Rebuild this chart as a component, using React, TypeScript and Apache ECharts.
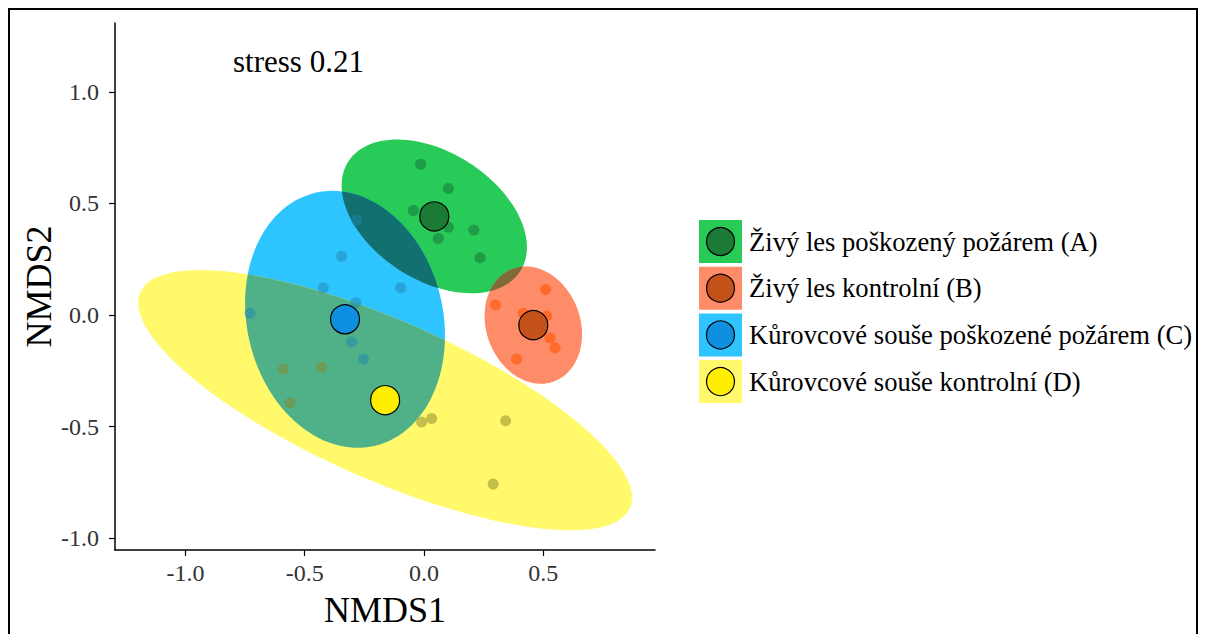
import React, { useEffect, useRef } from "react";
import * as echarts from "echarts";

const groupNames = [
  "Živý les poškozený požárem (A)",
  "Živý les kontrolní (B)",
  "Kůrovcové souše poškozené požárem (C)",
  "Kůrovcové souše kontrolní (D)",
];
const ellipseColors = ["#28CA58", "#FF8C69", "#2EC4FF", "#FFF96B"];
const centroidColors = ["#1B7A35", "#C4501A", "#0F8FE0", "#FFEE00"];
const pointColors = [
  "rgba(20,110,56,0.5)",
  "rgba(255,85,0,0.6)",
  "rgba(32,134,177,0.5)",
  "rgba(137,134,41,0.5)",
];

// group centroids (NMDS1, NMDS2)
const centroids = [
  [0.043, 0.442],
  [0.458, -0.045],
  [-0.331, -0.019],
  [-0.163, -0.381],
];

// ellipse conjugate semi-axis vectors in data units
const ellipseU = [
  [0.3607, -0.245],
  [0.0859, -0.2526],
  [0.1253, -0.5665],
  [1.026, -0.4828],
];
const ellipseV = [
  [-0.1437, -0.2418],
  [-0.1852, -0.0721],
  [-0.3997, -0.1012],
  [-0.1341, -0.326],
];

const overlapPairs = [
  [0, 2],
  [2, 3],
  [0, 1],
];
const overlapColors = ["#127070", "#50B189", "#7F6B39"];

const pointsA = [
  [-0.014, 0.675],
  [0.102, 0.567],
  [-0.045, 0.468],
  [0.102, 0.393],
  [0.06, 0.343],
  [0.209, 0.381],
  [0.235, 0.257],
];
const pointsB = [
  [0.51, 0.115],
  [0.3, 0.045],
  [0.416, 0.008],
  [0.514, -0.004],
  [0.528, -0.103],
  [0.549, -0.146],
  [0.388, -0.197],
];
const pointsC = [
  [-0.282, 0.425],
  [-0.345, 0.264],
  [-0.422, 0.122],
  [-0.098, 0.122],
  [-0.286, 0.055],
  [-0.729, 0.008],
  [-0.303, -0.12],
  [-0.254, -0.198],
];
const pointsD = [
  [-0.589, -0.242],
  [-0.429, -0.234],
  [-0.561, -0.393],
  [-0.01, -0.479],
  [0.032, -0.463],
  [0.342, -0.473],
  [0.29, -0.757],
];
const groupPoints = [pointsA, pointsB, pointsC, pointsD];

const tickValues = [-1, -0.5, 0, 0.5];
const yTickValues = [-1, -0.5, 0, 0.5, 1];
const stressLabel = "stress 0.21";

const FONT = "Liberation Serif";

function ellipsePixels(g: number, api: any): number[][] {
  const pts: number[][] = [];
  const N = 120;
  const c = centroids[g];
  const u = ellipseU[g];
  const v = ellipseV[g];
  for (let k = 0; k < N; k++) {
    const t = (2 * Math.PI * k) / N;
    const x = c[0] + Math.cos(t) * u[0] + Math.sin(t) * v[0];
    const y = c[1] + Math.cos(t) * u[1] + Math.sin(t) * v[1];
    pts.push(api.coord([x, y]));
  }
  return pts;
}

function clipPolygon(subject: number[][], clip: number[][]): number[][] {
  let area = 0;
  for (let i = 0; i < clip.length; i++) {
    const a = clip[i];
    const b = clip[(i + 1) % clip.length];
    area += a[0] * b[1] - b[0] * a[1];
  }
  const sgn = area > 0 ? 1 : -1;
  let output = subject;
  for (let i = 0; i < clip.length && output.length; i++) {
    const a = clip[i];
    const b = clip[(i + 1) % clip.length];
    const inside = (p: number[]) =>
      sgn * ((b[0] - a[0]) * (p[1] - a[1]) - (b[1] - a[1]) * (p[0] - a[0])) >= 0;
    const inter = (p: number[], q: number[]) => {
      const dx = q[0] - p[0];
      const dy = q[1] - p[1];
      const ex = b[0] - a[0];
      const ey = b[1] - a[1];
      const denom = dx * ey - dy * ex;
      const t = ((a[0] - p[0]) * ey - (a[1] - p[1]) * ex) / denom;
      return [p[0] + t * dx, p[1] + t * dy];
    };
    const input = output;
    output = [];
    for (let j = 0; j < input.length; j++) {
      const cur = input[j];
      const prev = input[(j + input.length - 1) % input.length];
      const cIn = inside(cur);
      const pIn = inside(prev);
      if (cIn) {
        if (!pIn) output.push(inter(prev, cur));
        output.push(cur);
      } else if (pIn) {
        output.push(inter(prev, cur));
      }
    }
  }
  return output;
}

export default function App() {
  const ref = useRef<HTMLDivElement>(null);
  useEffect(() => {
    if (!ref.current) return;
    const chart = echarts.init(ref.current, null, { renderer: "svg" });

    const legendTop = 220;
    const legendPitch = 46.7;
    const legendGraphics: any[] = [];
    const titles: any[] = [
      {
        text: stressLabel,
        left: 233,
        top: 46,
        padding: 0,
        textStyle: { fontFamily: FONT, fontSize: 31, fontWeight: "normal", color: "#000" },
      },
    ];
    groupNames.forEach((name, i) => {
      const y = legendTop + i * legendPitch;
      legendGraphics.push({
        type: "rect",
        shape: { x: 699, y, width: 43, height: 43 },
        style: { fill: ellipseColors[i] },
        silent: true,
      });
      legendGraphics.push({
        type: "circle",
        shape: { cx: 720.5, cy: y + 21.5, r: 14 },
        style: { fill: centroidColors[i], stroke: "#000", lineWidth: 1.2 },
        silent: true,
      });
      titles.push({
        text: name,
        left: 749,
        top: y + 21.5 - 13.5,
        padding: 0,
        textStyle: { fontFamily: FONT, fontSize: 26.6, fontWeight: "normal", color: "#000" },
      });
    });

    const series: any[] = [
      {
        type: "custom",
        silent: true,
        coordinateSystem: "cartesian2d",
        data: centroids,
        z: 1,
        renderItem: (params: any, api: any) => {
          const g = params.dataIndex;
          return {
            type: "polygon",
            shape: { points: ellipsePixels(g, api) },
            style: { fill: ellipseColors[g] },
          };
        },
      },
      {
        type: "custom",
        silent: true,
        coordinateSystem: "cartesian2d",
        data: overlapPairs.map((p) => centroids[p[0]]),
        z: 2,
        renderItem: (params: any, api: any) => {
          const pair = overlapPairs[params.dataIndex];
          const a = ellipsePixels(pair[0], api);
          const b = ellipsePixels(pair[1], api);
          const poly = clipPolygon(a, b);
          return {
            type: "polygon",
            shape: { points: poly },
            style: { fill: overlapColors[params.dataIndex] },
          };
        },
      },
    ];
    groupPoints.forEach((pts, i) => {
      series.push({
        type: "scatter",
        silent: true,
        data: pts,
        symbolSize: 11,
        z: 3,
        itemStyle: { color: pointColors[i], opacity: 1 },
      });
    });
    centroids.forEach((c, i) => {
      series.push({
        type: "scatter",
        silent: true,
        data: [c],
        symbolSize: 29,
        z: 4,
        itemStyle: {
          color: centroidColors[i],
          borderColor: "#000",
          borderWidth: 1.2,
          opacity: 1,
        },
      });
    });

    chart.setOption({
      animation: false,
      backgroundColor: "#fff",
      title: titles,
      grid: { left: 115, top: 23, right: 552, bottom: 84, containLabel: false },
      xAxis: {
        type: "value",
        min: -1.295,
        max: 0.968,
        name: "NMDS1",
        nameLocation: "middle",
        nameGap: 42,
        nameTextStyle: { fontFamily: FONT, fontSize: 36, color: "#000" },
        axisLine: { show: true, onZero: false, lineStyle: { color: "#000", width: 1.5 } },
        axisTick: { show: true, length: 6, customValues: tickValues, lineStyle: { color: "#000", width: 1.2 } },
        axisLabel: {
          customValues: tickValues,
          formatter: (v: number) => v.toFixed(1),
          fontFamily: FONT,
          fontSize: 24,
          color: "#333",
          margin: 11,
        },
        splitLine: { show: false },
      },
      yAxis: {
        type: "value",
        min: -1.052,
        max: 1.308,
        name: "NMDS2",
        nameLocation: "middle",
        nameGap: 53,
        nameTextStyle: { fontFamily: FONT, fontSize: 36, color: "#000" },
        axisLine: { show: true, onZero: false, lineStyle: { color: "#000", width: 1.5 } },
        axisTick: { show: true, length: 6, customValues: yTickValues, lineStyle: { color: "#000", width: 1.2 } },
        axisLabel: {
          customValues: yTickValues,
          formatter: (v: number) => v.toFixed(1),
          fontFamily: FONT,
          fontSize: 24,
          color: "#333",
          margin: 16,
        },
        splitLine: { show: false },
      },
      graphic: [
        {
          type: "rect",
          shape: { x: 9, y: 9, width: 1188, height: 640 },
          style: { fill: "none", stroke: "#000", lineWidth: 2 },
          silent: true,
          z: 0,
        },
        ...legendGraphics,
      ],
      series,
    });
    return () => chart.dispose();
  }, []);
  return (
    <div
      ref={ref}
      style={{ position: "fixed", left: 0, top: 0, width: 1207, height: 634, background: "#fff" }}
    />
  );
}
